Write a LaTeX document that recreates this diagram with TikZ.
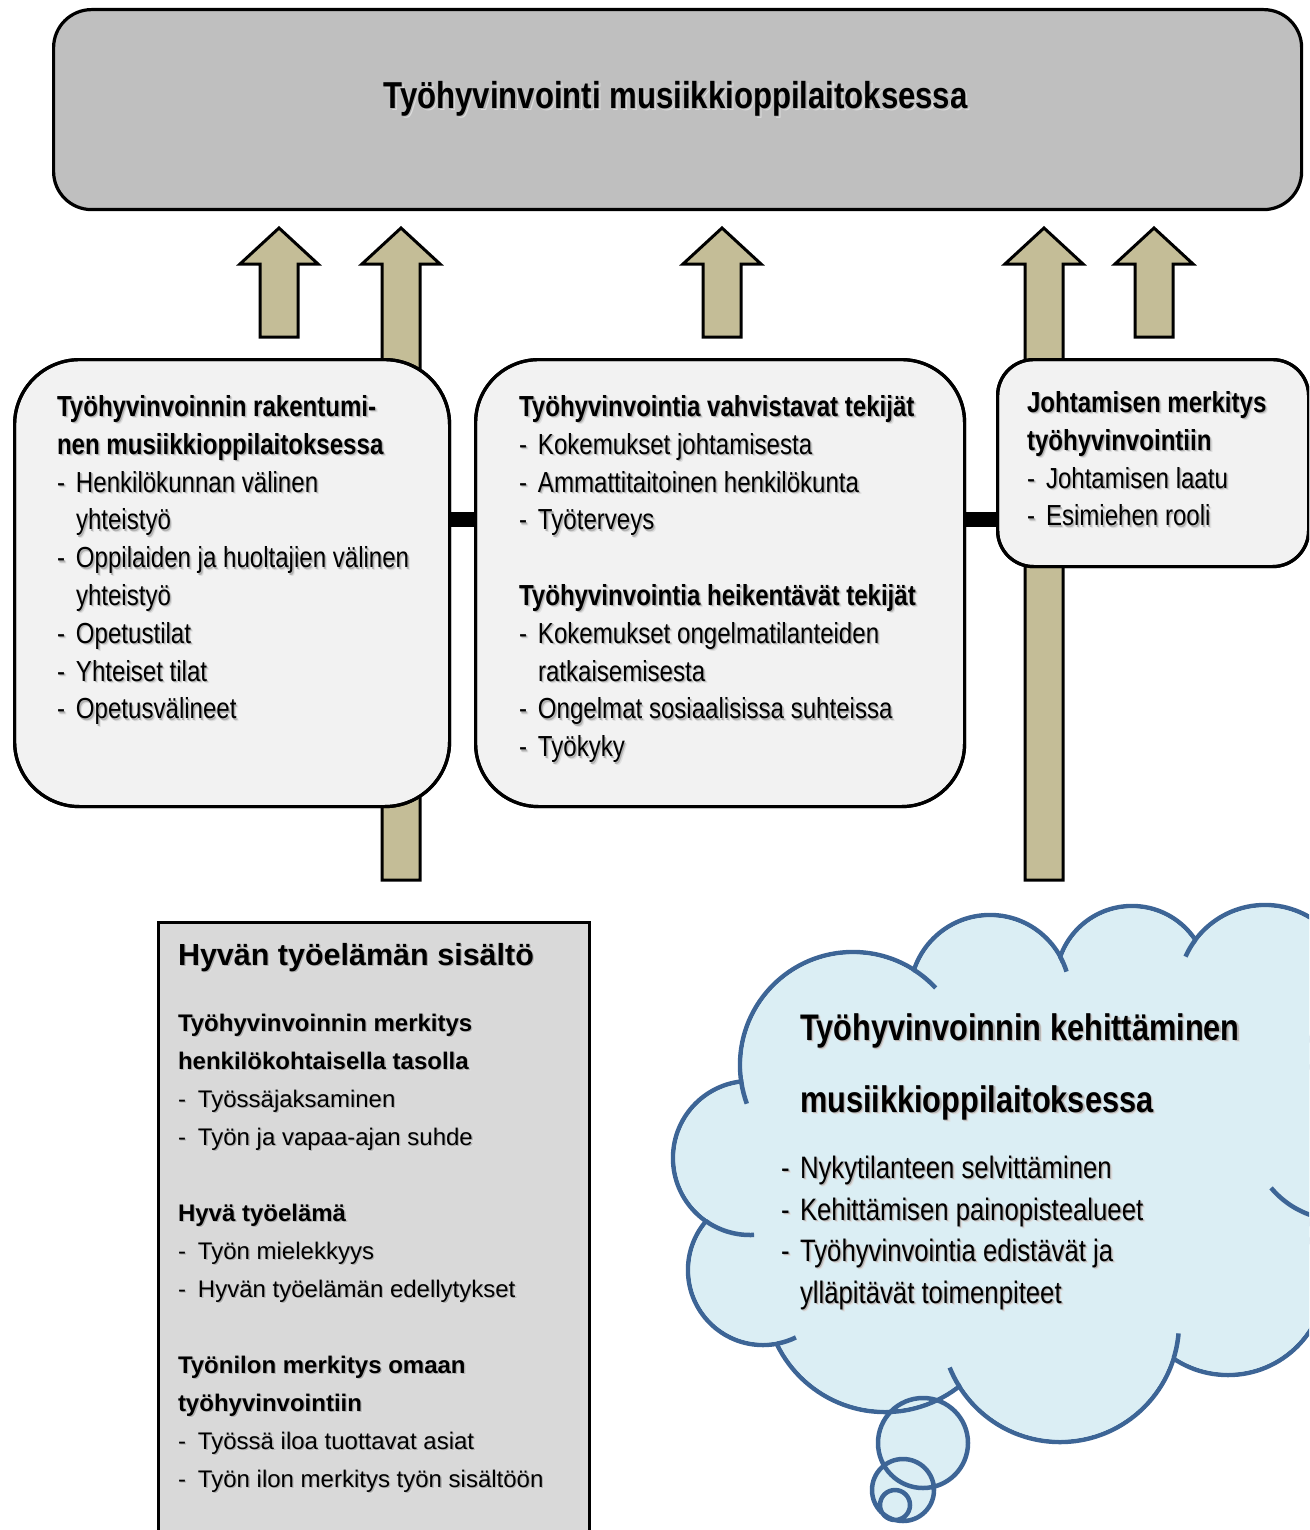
\documentclass[tikz,border=0pt]{standalone}
\usepackage{fontspec}
\setmainfont{Liberation Sans}
\newfontfamily\nfont{Liberation Sans}[FakeStretch=0.83]
\usetikzlibrary{calc}

\definecolor{topgray}{HTML}{BFBFBF}
\definecolor{boxfill}{HTML}{F2F2F2}
\definecolor{tanfill}{HTML}{C4BD97}
\definecolor{sidegray}{HTML}{D9D9D9}
\definecolor{cloudfill}{HTML}{DBEEF4}
\definecolor{cloudline}{HTML}{3D6596}

% text with a soft drop shadow
\newcommand\shd[1]{\makebox[0pt][l]{\hspace{2.4pt}\raisebox{-2.4pt}{\color{black!13}#1}}\makebox[0pt][l]{\hspace{1.3pt}\raisebox{-1.3pt}{\color{black!30}#1}}#1}
% dash of a list item
\newcommand\bul[1]{\makebox[19pt][l]{-}#1}
\newcommand\bulw[1]{\makebox[20pt][l]{-}#1}
% one line of text, placed by its baseline
\newcommand\tline[4]{\node[txt,#1] (#2) at (#3) {\shd{#4}};}
% upward block arrow: name, centre x, bottom y
\newcommand\blockarrow[3]{\draw[arrowbody] (#2-19,#3) -- (#2-19,264) -- (#2-39,264) -- (#2,228) -- (#2+39,264) -- (#2+19,264) -- (#2+19,#3) -- cycle; \coordinate (#1) at (#2,228);}

\begin{document}
\begin{tikzpicture}[x=1pt,y=-1pt,
  txt/.style={anchor=base west,inner sep=0pt,outer sep=0pt},
  rbox/.style={draw=black,line width=3.2pt,fill=boxfill,anchor=north west,inner sep=0pt},
  arrowbody/.style={draw=black,line width=3pt,fill=tanfill,line join=miter,miter limit=10},
  bar/.style={draw=black,line width=15pt},
  cl/.style={draw=cloudline,line width=4.5pt},
  bodyf/.style={font=\nfont\fontsize{29}{38}\selectfont},
  headf/.style={font=\nfont\bfseries\fontsize{29}{38}\selectfont},
  bigf/.style={font=\nfont\bfseries\fontsize{37.5}{44}\selectfont},
  cloudhf/.style={font=\nfont\bfseries\fontsize{37}{44}\selectfont},
  cloudf/.style={font=\nfont\fontsize{31}{40}\selectfont},
  sidehf/.style={font=\bfseries\fontsize{30.5}{36}\selectfont},
  sidebf/.style={font=\bfseries\fontsize{24}{30}\selectfont},
  sidef/.style={font=\fontsize{24}{30}\selectfont}]
\useasboundingbox (0,0) rectangle (1309,1530);
\clip (0,0) rectangle (1309,1530);

% top box
\node[rbox,fill=topgray,rounded corners=38pt,minimum width=1248pt,minimum height=200pt] (top) at (52,8) {};
\node[anchor=base,inner sep=0pt,bigf] (title) at (675.5,108.5) {\shd{Työhyvinvointi musiikkioppilaitoksessa}};

% block arrows into the top box
\blockarrow{a1}{279}{337}
\blockarrow{a2}{401}{880}
\blockarrow{a3}{722}{337}
\blockarrow{a4}{1044}{880}
\blockarrow{a5}{1154}{337}

% the three boxes and the bars joining them
\node[rbox,rounded corners=65pt,minimum width=435pt,minimum height=447pt] (lbox) at (13,358) {};
\node[rbox,rounded corners=63pt,minimum width=489pt,minimum height=447pt] (mbox) at (474,358) {};
\node[rbox,rounded corners=36pt,minimum width=311pt,minimum height=207pt] (rbox) at (996,358) {};
\draw[bar] (lbox.east |- 0,519.5) -- (mbox.west |- 0,519.5);
\draw[bar] (mbox.east |- 0,519.5) -- (rbox.west |- 0,519.5);
% box borders again over the bar ends
\node[rbox,rounded corners=65pt,minimum width=435pt,minimum height=447pt,fill=none] at (13,358) {};
\node[rbox,rounded corners=63pt,minimum width=489pt,minimum height=447pt,fill=none] at (474,358) {};
\node[rbox,rounded corners=36pt,minimum width=311pt,minimum height=207pt,fill=none] at (996,358) {};

% left box text
\tline{headf}{l0}{57,416.5}{Työhyvinvoinnin rakentumi-}
\tline{headf}{l1}{57,454.3}{nen musiikkioppilaitoksessa}
\tline{bodyf}{l2}{57,492.1}{\bul{Henkilökunnan välinen}}
\tline{bodyf}{l3}{76,529.9}{yhteistyö}
\tline{bodyf}{l4}{57,567.7}{\bul{Oppilaiden ja huoltajien välinen}}
\tline{bodyf}{l5}{76,605.5}{yhteistyö}
\tline{bodyf}{l6}{57,643.3}{\bul{Opetustilat}}
\tline{bodyf}{l7}{57,681.1}{\bul{Yhteiset tilat}}
\tline{bodyf}{l8}{57,718.9}{\bul{Opetusvälineet}}

% middle box text
\tline{headf}{m0}{519,416.5}{Työhyvinvointia vahvistavat tekijät}
\tline{bodyf}{m1}{519,454.3}{\bul{Kokemukset johtamisesta}}
\tline{bodyf}{m2}{519,492.1}{\bul{Ammattitaitoinen henkilökunta}}
\tline{bodyf}{m3}{519,529.9}{\bul{Työterveys}}
\tline{headf}{m5}{519,605.5}{Työhyvinvointia heikentävät tekijät}
\tline{bodyf}{m6}{519,643.3}{\bul{Kokemukset ongelmatilanteiden}}
\tline{bodyf}{m7}{538,681.1}{ratkaisemisesta}
\tline{bodyf}{m8}{519,718.9}{\bul{Ongelmat sosiaalisissa suhteissa}}
\tline{bodyf}{m9}{519,756.7}{\bul{Työkyky}}

% right box text
\tline{headf}{r0}{1027,412.5}{Johtamisen merkitys}
\tline{headf}{r1}{1027,450.3}{työhyvinvointiin}
\tline{bodyf}{r2}{1027,488.1}{\bul{Johtamisen laatu}}
\tline{bodyf}{r3}{1027,525.9}{\bul{Esimiehen rooli}}

% lower left box
\node[rbox,fill=sidegray,minimum width=431pt,minimum height=700pt] (sbox) at (157,921) {};
\tline{sidehf}{s0}{178,965}{Hyvän työelämän sisältö}
\tline{sidebf}{s1}{178,1031}{Työhyvinvoinnin merkitys}
\tline{sidebf}{s2}{178,1069}{henkilökohtaisella tasolla}
\tline{sidef}{s3}{178,1107}{\bulw{Työssäjaksaminen}}
\tline{sidef}{s4}{178,1145}{\bulw{Työn ja vapaa-ajan suhde}}
\tline{sidebf}{s5}{178,1221}{Hyvä työelämä}
\tline{sidef}{s6}{178,1259}{\bulw{Työn mielekkyys}}
\tline{sidef}{s7}{178,1297}{\bulw{Hyvän työelämän edellytykset}}
\tline{sidebf}{s8}{178,1373}{Työnilon merkitys omaan}
\tline{sidebf}{s9}{178,1411}{työhyvinvointiin}
\tline{sidef}{s10}{178,1449}{\bulw{Työssä iloa tuottavat asiat}}
\tline{sidef}{s11}{178,1487}{\bulw{Työn ilon merkitys työn sisältöön}}

% thought cloud: bubble fills first
\fill[cloudfill] (923,1443) circle[radius=45] (903,1490) circle[radius=31] (895,1505) circle[radius=15];
% cloud bumps
\foreach \n/\cx/\cy/\r in {A/853/1065/113, B/990/995/80, C/1132/982/76, D/1265/992/87, R/1420/1140/150, E/1228/1277/98, F/1060/1323/119, G/885/1292/120, M/763/1270/75, L/750/1158/77}{
  \coordinate (c\n) at (\cx,\cy);
  \draw[cl,fill=cloudfill] (c\n) circle[radius=\r];
}
% clear the inner strokes
\fill[cloudfill] (cA) -- (cB) -- (cC) -- (cD) -- (cR) -- (cE) -- (cF) -- (cG) -- (cM) -- (cL) -- cycle;
\foreach \n/\r in {A/113, B/80, C/76, D/87, R/150, E/98, F/119, G/120, M/75, L/77}{
  \fill[cloudfill] (c\n) circle[radius=\r-2.4];
}
% short inner arcs where the bumps meet
\foreach \n/\r/\a/\b in {A/113/-57/-43, A/113/171/160, B/80/-29/-17, D/87/-143/-156, F/119/17/5, F/119/148/158, M/75/79/64, L/77/125/87}{
  \draw[cl] ($(c\n)+(\a:\r)$) arc[start angle=\a, end angle=\b, radius=\r];
}
\coordinate (cS) at (1340,1130);
\draw[cl] ($(cS)+(140:90)$) arc[start angle=140, end angle=100, radius=90];
% bubble outlines
\draw[cl] (923,1443) circle[radius=45] (903,1490) circle[radius=31] (895,1505) circle[radius=15];

% cloud text
\tline{cloudhf}{k0}{800,1040}{Työhyvinvoinnin kehittäminen}
\tline{cloudhf}{k1}{800,1112}{musiikkioppilaitoksessa}
\tline{cloudf}{k2}{781,1178}{\bul{Nykytilanteen selvittäminen}}
\tline{cloudf}{k3}{781,1220}{\bul{Kehittämisen painopistealueet}}
\tline{cloudf}{k4}{781,1261}{\bul{Työhyvinvointia edistävät ja}}
\tline{cloudf}{k5}{800,1303}{ylläpitävät toimenpiteet}
\end{tikzpicture}
\end{document}
